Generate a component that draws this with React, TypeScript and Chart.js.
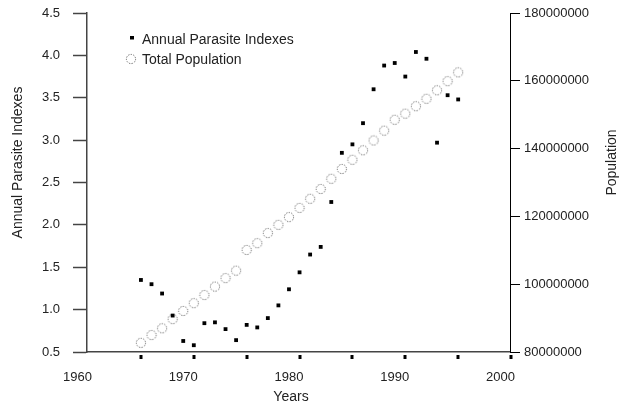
import { useEffect, useRef } from "react";
import { Chart, registerables } from "chart.js";

Chart.register(...registerables);

const years = [
  1966, 1967, 1968, 1969, 1970, 1971, 1972, 1973, 1974, 1975, 1976, 1977,
  1978, 1979, 1980, 1981, 1982, 1983, 1984, 1985, 1986, 1987, 1988, 1989,
  1990, 1991, 1992, 1993, 1994, 1995, 1996,
];

const parasiteIndexes = [
  1.35, 1.3, 1.19, 0.93, 0.63, 0.58, 0.84, 0.85, 0.77, 0.64, 0.82, 0.79, 0.9,
  1.05, 1.24, 1.44, 1.65, 1.74, 2.27, 2.85, 2.95, 3.2, 3.6, 3.88, 3.91, 3.75,
  4.04, 3.96, 2.97, 3.53, 3.48,
];

const population = [
  82700000, 85000000, 87000000, 89700000, 92100000, 94400000, 96800000,
  99300000, 101800000, 104000000, 110100000, 112100000, 115100000, 117500000,
  119800000, 122500000, 125200000, 128100000, 131100000, 134000000, 136700000,
  139500000, 142400000, 145300000, 148500000, 150300000, 152500000, 154700000,
  157200000, 159900000, 162500000,
];

// labelled years on the x axis, and the small square marks under the axis
const xLabelYears = [1960, 1970, 1980, 1990, 2000];
const tickMarkYears = [1966, 1971, 1976, 1981, 1986, 1991, 1996, 2001];

const FONT = "'Liberation Sans', Arial, sans-serif";

// dotted open circle used for the population points
const makeRing = () => {
  const c = document.createElement("canvas");
  c.width = 12;
  c.height = 12;
  const g = c.getContext("2d");
  if (g) {
    g.setLineDash([1.3, 1.3]);
    g.strokeStyle = "#666";
    g.lineWidth = 1;
    g.beginPath();
    g.arc(6, 6, 4.6, 0, Math.PI * 2);
    g.stroke();
  }
  return c;
};

const App = () => {
  const chartRef = useRef<HTMLCanvasElement | null>(null);

  useEffect(() => {
    if (!chartRef.current) return;
    const ctx = chartRef.current.getContext("2d");
    if (!ctx) return;

    Chart.defaults.font.family = FONT;
    Chart.defaults.font.size = 13;
    Chart.defaults.color = "#222";

    const ring = makeRing();

    // axis titles sit a little off-centre in the original, so they are drawn here
    const drawTitle = (c: CanvasRenderingContext2D, text: string, x: number, y: number, rotate: boolean) => {
      c.save();
      c.translate(x, y);
      if (rotate) c.rotate(-Math.PI / 2);
      c.fillText(text, 0, 0);
      c.restore();
    };

    const decorations = {
      id: "decorations",
      afterDraw(chart: any) {
        const { ctx, chartArea, scales } = chart;
        ctx.save();

        // square marks under the x axis
        ctx.fillStyle = "#000";
        tickMarkYears.forEach((yr) => {
          const px = Math.round(scales.x.getPixelForValue(yr));
          ctx.fillRect(px - 1.5, chartArea.bottom + 3, 3, 4);
        });

        // legend inside the plot
        ctx.font = `14px ${FONT}`;
        ctx.textAlign = "left";
        ctx.textBaseline = "middle";
        const lx = chartArea.left + 45;
        chart.data.datasets.forEach((ds: any, i: number) => {
          const cy = chartArea.top + 27 + i * 20;
          if (ds.pointStyle === "rect") {
            ctx.fillStyle = "#000";
            ctx.fillRect(lx - 2, cy - 4, 4, 3.5);
          } else {
            ctx.drawImage(ring, lx - 7, cy - 7);
          }
          ctx.fillStyle = "#222";
          ctx.fillText(ds.label, lx + 10, cy);
        });

        // axis titles
        ctx.textAlign = "center";
        drawTitle(ctx, "Annual Parasite Indexes", 18.5, 162.5, true);
        drawTitle(ctx, "Population", scales.y1.right - 14, 162.5, true);
        drawTitle(ctx, "Years", 291, 397, false);
        ctx.restore();
      },
    };

    const chart = new Chart(ctx, {
      type: "scatter",
      data: {
        datasets: [
          {
            label: "Annual Parasite Indexes",
            data: years.map((x, i) => ({ x, y: parasiteIndexes[i] })),
            yAxisID: "y",
            pointStyle: "rect",
            pointRadius: 2.7,
            backgroundColor: "#000",
            borderWidth: 0,
          },
          {
            label: "Total Population",
            data: years.map((x, i) => ({ x, y: population[i] })),
            yAxisID: "y1",
            pointStyle: ring,
            pointRadius: 5,
          },
        ],
      },
      options: {
        animation: false,
        responsive: true,
        maintainAspectRatio: false,
        layout: { padding: { top: 13 } },
        plugins: {
          legend: { display: false },
          tooltip: { enabled: false },
        },
        scales: {
          x: {
            type: "linear",
            min: 1960.9,
            max: 2000.9,
            bounds: "data",
            afterBuildTicks: (axis: any) => {
              axis.ticks = xLabelYears.map((value) => ({ value }));
            },
            afterFit: (axis: any) => {
              axis.height = 52;
            },
            ticks: {
              autoSkip: false,
              maxRotation: 0,
              padding: 18,
              callback: (v: any) => String(v),
            },
            grid: { drawOnChartArea: false, drawTicks: false },
            border: { color: "#444", width: 1.5 },
          },
          y: {
            position: "left",
            min: 0.5,
            max: 4.5,
            afterFit: (axis: any) => {
              axis.width = 87;
              axis.paddingTop = 0;
              axis.paddingBottom = 0;
            },
            ticks: {
              stepSize: 0.5,
              padding: 13,
              callback: (v: any) => Number(v).toFixed(1),
            },
            grid: {
              drawOnChartArea: false,
              tickLength: 14,
              tickColor: "#444",
              tickWidth: 1.5,
            },
            border: { color: "#444", width: 1.5 },
          },
          y1: {
            position: "right",
            min: 80000000,
            max: 180000000,
            afterFit: (axis: any) => {
              axis.width = 116;
              axis.paddingTop = 0;
              axis.paddingBottom = 0;
            },
            ticks: {
              stepSize: 20000000,
              padding: 4,
              callback: (v: any) => String(v),
            },
            grid: { drawOnChartArea: false, tickLength: 10, tickColor: "#000" },
            border: { color: "#000", width: 1 },
          },
        },
      },
      plugins: [decorations],
    });

    return () => {
      chart.destroy();
    };
  }, []);

  return (
    <div style={{ position: "absolute", left: 0, top: 0, width: 626, height: 404 }}>
      <canvas ref={chartRef}></canvas>
    </div>
  );
};

export default App;
